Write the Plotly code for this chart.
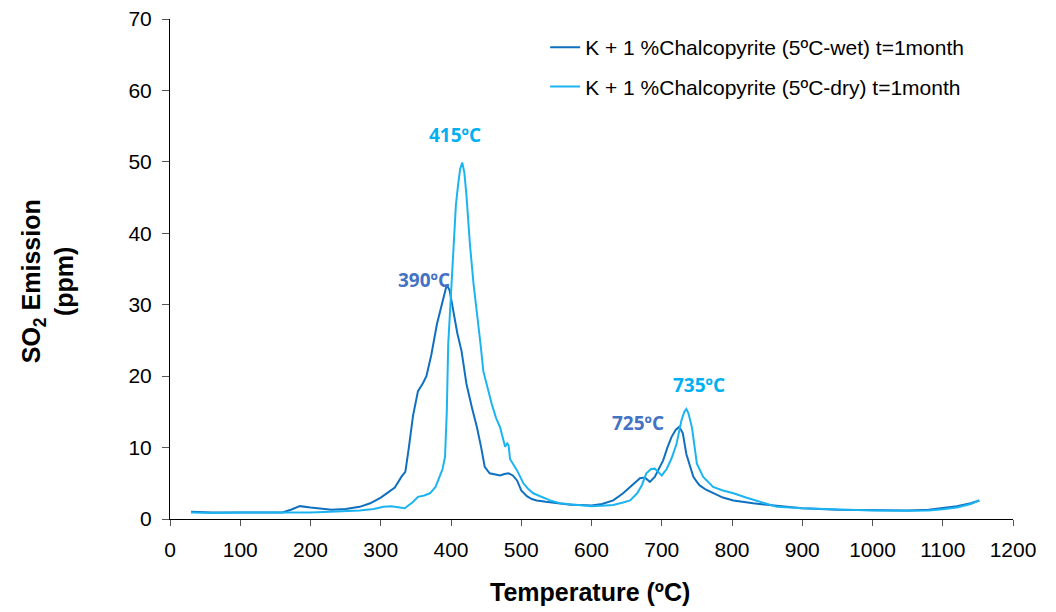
import plotly.graph_objects as go

# Wet sample (dark blue)
wet_x = [30, 60, 100, 140, 160, 172, 185, 200, 215, 230, 250, 270, 285, 300, 310, 320, 330, 335, 340, 346, 353, 360, 365, 372, 380, 389, 394, 398, 403, 409, 415, 422, 430, 437, 443, 448, 455, 463, 470, 476, 482, 488, 494, 500, 508, 515, 522, 535, 550, 570, 585, 600, 615, 631, 645, 655, 663, 669, 676, 683, 690, 696, 702, 708, 714, 720, 725, 730, 735, 740, 745, 750, 754, 763, 773, 787, 802, 830, 860, 900, 950, 1000, 1050, 1080, 1100, 1120, 1140, 1152]
wet_y = [1.0, 0.9, 0.9, 0.85, 0.9, 1.3, 1.8, 1.6, 1.4, 1.3, 1.4, 1.7, 2.2, 3.0, 3.7, 4.4, 6.0, 6.6, 10.0, 14.5, 17.9, 19.0, 20.0, 23.0, 27.3, 30.9, 32.8, 32.0, 29.1, 26.0, 23.5, 18.9, 15.5, 12.8, 10.0, 7.3, 6.4, 6.2, 6.1, 6.3, 6.4, 6.1, 5.4, 4.0, 3.2, 2.8, 2.6, 2.4, 2.2, 2.0, 1.95, 1.9, 2.1, 2.6, 3.6, 4.5, 5.3, 5.7, 5.8, 5.2, 5.9, 7.0, 8.2, 10.0, 11.5, 12.5, 12.9, 12.0, 9.1, 7.5, 5.9, 5.2, 4.7, 4.1, 3.6, 3.0, 2.6, 2.2, 1.9, 1.5, 1.3, 1.2, 1.2, 1.3, 1.5, 1.8, 2.2, 2.6]

# Dry sample (light blue)
dry_x = [30, 60, 100, 150, 200, 228, 250, 270, 290, 304, 315, 334, 345, 353, 362, 370, 378, 384, 388, 391.5, 394, 396, 400, 403, 407, 410, 413, 416, 419, 422, 427, 432, 437, 442, 446, 452, 458, 464, 470, 477, 480, 482, 484, 489, 494, 503, 510, 517, 530, 541, 555, 575, 600, 620, 631, 645, 655, 665, 672, 678, 685, 690, 695, 700, 707, 714, 721, 728, 732, 735, 738, 743, 750, 755, 759, 766, 773, 787, 802, 820, 840, 864, 900, 950, 1000, 1050, 1080, 1100, 1120, 1140, 1152]
dry_y = [0.9, 0.85, 0.9, 0.85, 0.9, 1.0, 1.1, 1.2, 1.4, 1.7, 1.8, 1.5, 2.3, 3.1, 3.3, 3.6, 4.5, 5.9, 7.0, 8.7, 15.0, 24.4, 32.0, 38.4, 44.0, 46.7, 49.0, 49.9, 48.5, 45.3, 38.4, 33.0, 29.1, 24.5, 20.7, 18.3, 16.1, 14.2, 12.8, 10.1, 10.6, 10.3, 8.4, 7.6, 6.8, 5.0, 4.2, 3.6, 3.0, 2.6, 2.2, 2.0, 1.8, 1.9, 1.95, 2.3, 2.6, 3.6, 4.8, 6.4, 7.0, 7.05, 6.5, 6.1, 7.0, 8.5, 10.5, 13.8, 15.0, 15.4, 14.8, 12.8, 7.75, 6.8, 5.9, 5.2, 4.5, 4.0, 3.6, 3.0, 2.4, 1.7, 1.5, 1.3, 1.2, 1.15, 1.2, 1.35, 1.6, 2.1, 2.6]

series_names = ["K + 1 %Chalcopyrite (5ºC-wet) t=1month",
                "K + 1 %Chalcopyrite (5ºC-dry) t=1month"]

peak_labels = ["390ºC", "415ºC", "725ºC", "735ºC"]
peak_x = [361, 405, 666, 753]
peak_y = [33.5, 53.7, 13.5, 18.8]
peak_colors = ["#4472C4", "#00B0F0", "#4472C4", "#00B0F0"]

x_title = "Temperature (ºC)"
y_title = "SO<sub>2</sub> Emission<br>(ppm)"

WET = "#1070C0"
DRY = "#1CB4F0"
FONT = "Liberation Sans, Arial, sans-serif"

fig = go.Figure()
fig.add_trace(go.Scatter(x=wet_x, y=wet_y, mode="lines", name=series_names[0],
                         line=dict(color=WET, width=2), legendgroup="a"))
fig.add_trace(go.Scatter(x=dry_x, y=dry_y, mode="lines", name=series_names[1],
                         line=dict(color=DRY, width=2), legendgroup="b"))

for t, x, y, c in zip(peak_labels, peak_x, peak_y, peak_colors):
    fig.add_annotation(x=x, y=y, text=t, showarrow=False,
                       font=dict(family="Open Sans, Calibri, sans-serif", size=19, color=c, weight="bold"))

fig.add_annotation(xref="paper", yref="paper", x=0.498, y=-0.146, text="<b>" + x_title + "</b>",
                   showarrow=False, xanchor="center", yanchor="middle",
                   font=dict(family=FONT, size=25, color="black"))
fig.add_annotation(xref="paper", yref="paper", x=-0.145, y=0.475, text="<b>" + y_title + "</b>",
                   showarrow=False, xanchor="center", yanchor="middle", textangle=-90,
                   font=dict(family=FONT, size=25, color="black"))

fig.update_layout(
    width=1056, height=612,
    paper_bgcolor="white", plot_bgcolor="white",
    margin=dict(l=162, r=51, t=11, b=101, autoexpand=False),
    font=dict(family=FONT, color="black"),
    showlegend=True,
    legend=dict(x=0.445, y=0.984, xanchor="left", yanchor="top",
                font=dict(size=21, family=FONT),
                tracegroupgap=9, itemwidth=30, bgcolor="rgba(0,0,0,0)"),
)
fig.update_xaxes(range=[0, 1200], dtick=100, tick0=0, showgrid=False, zeroline=False,
                 showline=True, linecolor="black", linewidth=1, automargin=False,
                 ticks="outside", ticklen=6, tickcolor="#555",
                 tickfont=dict(size=21), ticklabelstandoff=6, ticklabeloverflow="allow")
fig.update_yaxes(range=[0, 70], dtick=10, tick0=0, showgrid=False, zeroline=False,
                 showline=True, linecolor="black", linewidth=1, automargin=False,
                 ticks="outside", ticklen=7, tickcolor="#555",
                 tickfont=dict(size=21), ticklabelstandoff=6, ticklabeloverflow="allow")

fig.write_html("out.html")
